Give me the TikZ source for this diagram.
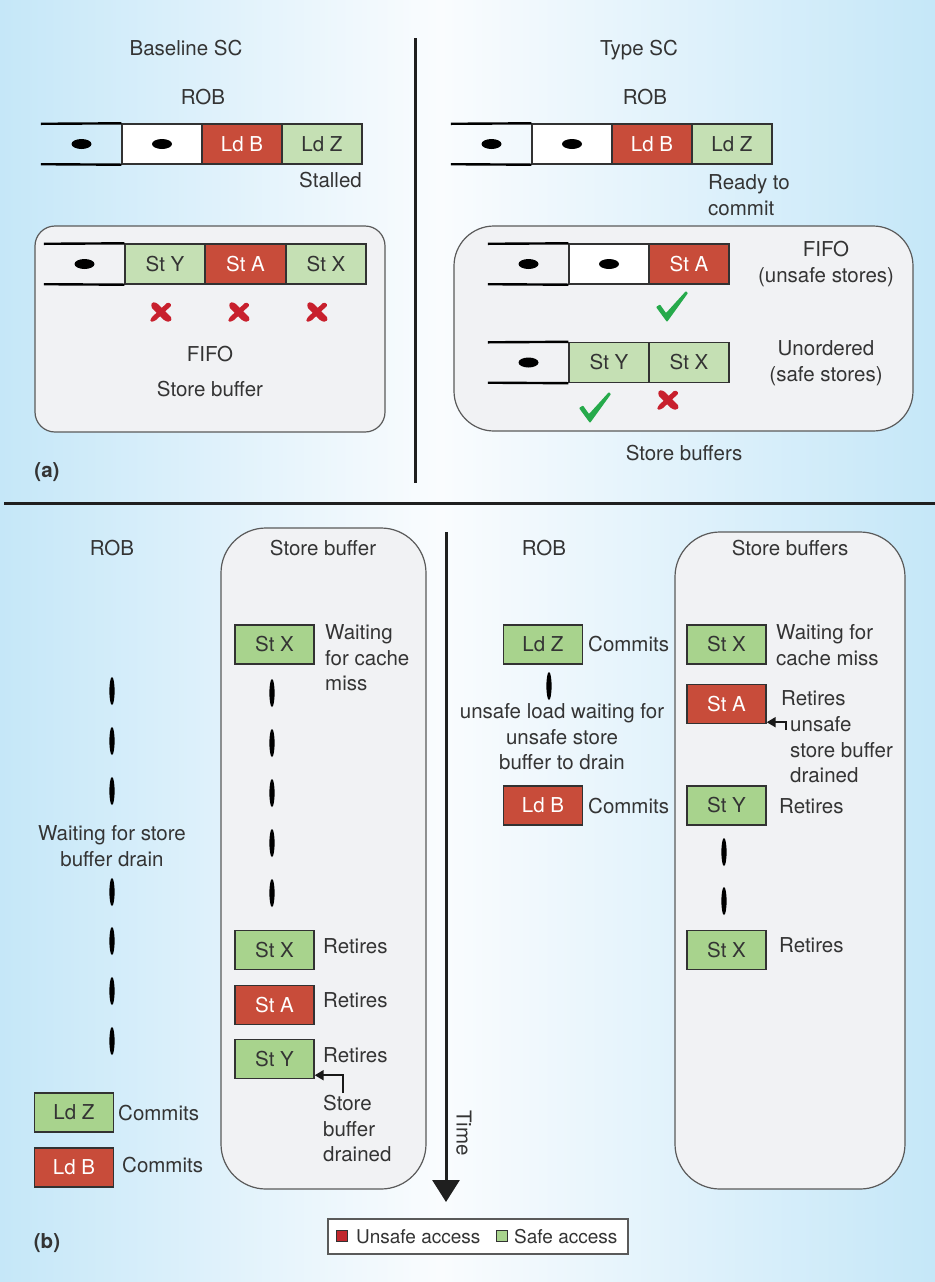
\documentclass[tikz,border=0pt]{standalone}
\usepackage{fontspec}
\setmainfont{TeX Gyre Heros}
\usetikzlibrary{arrows.meta}

\definecolor{bgblue}{RGB}{197,231,248}
\definecolor{bgwhite}{RGB}{250,252,254}
\definecolor{ink}{RGB}{52,52,52}
\definecolor{unsafered}{RGB}{200,76,58}
\definecolor{paleok}{RGB}{197,224,180}
\definecolor{safegreen}{RGB}{168,211,141}
\definecolor{legred}{RGB}{193,39,45}
\definecolor{panelgrey}{RGB}{241,242,244}
\definecolor{framegrey}{RGB}{90,90,90}
\definecolor{cellline}{RGB}{50,50,50}
\definecolor{tickgreen}{RGB}{38,170,75}
\definecolor{crossred}{RGB}{200,32,45}

\newcommand\labfont{\fontsize{20.5bp}{25.5bp}\selectfont}
\newcommand\legfont{\fontsize{19bp}{23bp}\selectfont}

\tikzset{
  lbl/.style={font=\labfont, text=ink, inner sep=0pt},
  cell/.style={rectangle, draw=cellline, line width=1.4bp, minimum width=80bp,
               minimum height=40bp, inner sep=0pt, font=\labfont, text=ink},
  emptycell/.style={cell, fill=white},
  unsafecell/.style={cell, fill=unsafered, text=white},
  safecell/.style={cell, fill=paleok},
  unsafebox/.style={cell, fill=unsafered, text=white, minimum width=79bp, minimum height=39bp},
  safebox/.style={cell, fill=safegreen, minimum width=79bp, minimum height=39bp},
  opencell/.style={rectangle, minimum width=81bp, minimum height=40bp, inner sep=0pt},
  openline/.style={line width=2.4bp, black, line cap=butt},
  panel/.style={rectangle, draw=framegrey, line width=1.2bp, fill=panelgrey, inner sep=0pt},
  divider/.style={line width=3bp, black!88},
  ptr/.style={line width=2bp, black!90, -{Triangle[length=9bp,width=10bp]}},
  hdot/.style={fill=black},
  tick/.style={fill=tickgreen},
  cross/.style={fill=crossred},
}

\newcommand\hdotat[1]{\fill[hdot] (#1) ellipse [x radius=10bp, y radius=5bp];}
\newcommand\vdotat[1]{\fill[hdot] (#1) ellipse [x radius=2.6bp, y radius=14bp];}
\newcommand\tickat[1]{\fill[tick, shift={(#1)}, rounded corners=0.8bp]
   (-16,0) -- (-12,-2.5) -- (-6,6) -- (14,-16) -- (16,-14) -- (-5,15) -- cycle;}
% brush-stroke cross: two tapered bars
\newcommand\crossat[1]{\fill[cross, shift={(#1)}, rounded corners=1.5bp]
   (-9,-10) -- (-4,-9) -- (11,6) -- (9,10) -- (4,9) -- (-10,-5) -- cycle
   (7,-10) -- (11,-7) -- (-6,9) -- (-11,10) -- (-10,6) -- cycle;}

\begin{document}
\begin{tikzpicture}[x=1bp, y=-1bp]
\useasboundingbox (0,0) rectangle (935,1282);

% background wash
\shade[left color=bgblue, right color=bgwhite] (0,0) rectangle (440,1282);
\shade[left color=bgwhite, right color=bgblue] (440,0) rectangle (935,1282);

% separators
\coordinate (sepL) at (4,503);
\coordinate (sepR) at (935,503);
\draw[divider] (sepL) -- (sepR);
\coordinate (midTop) at (415,38);
\coordinate (midBot) at (415,483);
\draw[divider] (midTop) -- (midBot);

% ================= (a) Baseline SC =================
\node[lbl, anchor=base] (baseSC) at (186,55.4) {Baseline SC};
\node[lbl, anchor=base] (robA) at (203,104.4) {ROB};

\node[opencell] (ra0) at (81.5,144) {};
\node[emptycell] (ra1) at (162,144) {};
\node[unsafecell] (ra2) at (242,144) {Ld B};
\node[safecell] (ra3) at (322,144) {Ld Z};
\draw[openline] (ra0.north west) -- (ra1.north west);
\draw[openline] (ra0.south west) -- (ra1.south west);
\hdotat{ra0.center}
\hdotat{ra1.center}
\node[lbl, anchor=base east] (stalled) at (362,187.4) {Stalled};

\node[panel, rounded corners=20bp, minimum width=350bp, minimum height=206bp] (panA) at (210,329) {};
\node[opencell] (sa0) at (84.5,264) {};
\node[safecell] (sa1) at (165,264) {St Y};
\node[unsafecell] (sa2) at (245.5,264) {St A};
\node[safecell] (sa3) at (326,264) {St X};
\draw[openline] (sa0.north west) -- (sa1.north west);
\draw[openline] (sa0.south west) -- (sa1.south west);
\hdotat{sa0.center}
\crossat{161,312}
\crossat{239,312}
\crossat{317,312}
\node[lbl, anchor=base] (fifoA) at (210,361.4) {FIFO};
\node[lbl, anchor=base] (sbA) at (210,396.4) {Store buffer};
\node[lbl, font=\labfont\bfseries] (tagA) at (47,472) {(a)};

% ================= (a) Type SC =================
\node[lbl, anchor=base] (typeSC) at (639,55.4) {Type SC};
\node[lbl, anchor=base] (robB) at (645,104.4) {ROB};

\node[opencell] (rb0) at (491.5,144) {};
\node[emptycell] (rb1) at (572,144) {};
\node[unsafecell] (rb2) at (652,144) {Ld B};
\node[safecell] (rb3) at (732,144) {Ld Z};
\draw[openline] (rb0.north west) -- (rb1.north west);
\draw[openline] (rb0.south west) -- (rb1.south west);
\hdotat{rb0.center}
\hdotat{rb1.center}
\node[lbl, anchor=north west, align=left] (ready) at (708,174.4) {Ready to\\commit};

\node[panel, rounded corners=40bp, minimum width=459bp, minimum height=205bp] (panB) at (683.5,328.5) {};
\node[opencell] (fb0) at (528.5,264) {};
\node[emptycell] (fb1) at (609,264) {};
\node[unsafecell] (fb2) at (689,264) {St A};
\draw[openline] (fb0.north west) -- (fb1.north west);
\draw[openline] (fb0.south west) -- (fb1.south west);
\hdotat{fb0.center}
\hdotat{fb1.center}
\tickat{672,307}
\node[lbl, anchor=north, align=center] (fifoU) at (826,241.4) {FIFO\\(unsafe stores)};

\node[opencell] (ub0) at (528.5,362.5) {};
\node[safecell] (ub1) at (609,362.5) {St Y};
\node[safecell] (ub2) at (689,362.5) {St X};
\draw[openline] (ub0.north west) -- (ub1.north west);
\draw[openline] (ub0.south west) -- (ub1.south west);
\hdotat{ub0.center}
\tickat{595,408}
\crossat{668,400}
\node[lbl, anchor=north, align=center] (unord) at (826,340.4) {Unordered\\(safe stores)};
\node[lbl, anchor=base] (sbB) at (684,460.4) {Store buffers};

% ================= (b) Baseline timeline =================
\node[panel, rounded corners=45bp, minimum width=205bp, minimum height=661bp] (panC) at (323.5,858.5) {};
\node[lbl, anchor=base] (robC) at (112,555.4) {ROB};
\node[lbl, anchor=base] (sbC) at (323,555.4) {Store buffer};

\node[safebox] (cX1) at (274.5,644.5) {St X};
\node[lbl, anchor=north west, align=left] (cWait) at (325,624.4) {Waiting\\for cache\\miss};
\foreach \yy in {693,743,793,843,893} {\vdotat{272,\yy}}
\foreach \yy in {691,741,791,892,941,991,1041} {\vdotat{112,\yy}}
\node[lbl, anchor=north, align=center] (cDrain) at (112,825.4) {Waiting for store\\buffer drain};

\node[safebox] (cX2) at (274.5,950) {St X};
\node[lbl, anchor=base west] (cRetX) at (323,953.4) {Retires};
\node[unsafebox] (cA) at (274.5,1005) {St A};
\node[lbl, anchor=base west] (cRetA) at (323,1007.4) {Retires};
\node[safebox] (cY) at (274.5,1059) {St Y};
\node[lbl, anchor=base west] (cRetY) at (323,1062.4) {Retires};
\coordinate (cFoot) at (343,1093);
\draw[ptr] (cFoot) |- ([yshift=4bp]cY.south east);
\node[lbl, anchor=north west, align=left] (cDrained) at (323,1095.4) {Store\\buffer\\drained};

\node[safebox] (cLdZ) at (74,1112.5) {Ld Z};
\node[lbl, anchor=base west] (cComZ) at (118,1120.4) {Commits};
\node[unsafebox] (cLdB) at (74,1167.5) {Ld B};
\node[lbl, anchor=base west] (cComB) at (122,1172.4) {Commits};
\node[lbl, font=\labfont\bfseries] (tagB) at (47,1243) {(b)};

% time axis
\coordinate (timeTop) at (446,532);
\coordinate (timeEnd) at (446,1202);
\draw[line width=3bp, black!88, -{Triangle[length=22bp,width=27bp]}] (timeTop) -- (timeEnd);
\node[lbl, rotate=-90] (timeLbl) at (464,1133) {Time};

% ================= (b) Type SC timeline =================
\node[panel, rounded corners=45bp, minimum width=230bp, minimum height=657bp] (panD) at (790,860.5) {};
\node[lbl, anchor=base] (robD) at (544,555.4) {ROB};
\node[lbl, anchor=base] (sbD) at (790,555.4) {Store buffers};

\node[safebox] (dLdZ) at (543,644.5) {Ld Z};
\node[lbl, anchor=base west] (dComZ) at (588,651.4) {Commits};
\vdotat{549,686}
\node[lbl, anchor=north, align=center] (dUnsafe) at (562,703.4) {unsafe load waiting for\\unsafe store\\buffer to drain};
\node[unsafebox] (dLdB) at (543,805.5) {Ld B};
\node[lbl, anchor=base west] (dComB) at (588,813.4) {Commits};

\node[safebox] (dX1) at (726.5,644.5) {St X};
\node[lbl, anchor=north west, align=left] (dWait) at (776,624.4) {Waiting for\\cache miss};
\node[unsafebox] (dA) at (726.5,704) {St A};
\node[lbl, anchor=base west] (dRetA) at (781,705.4) {Retires};
\coordinate (dFoot) at (786,730);
\draw[ptr] (dFoot) |- ([yshift=2bp]dA.south east);
\node[lbl, anchor=north west, align=left] (dDrained) at (790,716.4) {unsafe\\store buffer\\drained};
\node[safebox] (dY) at (726.5,805.5) {St Y};
\node[lbl, anchor=base west] (dRetY) at (779,813.4) {Retires};
\vdotat{724,852}
\vdotat{724,901}
\node[safebox] (dX2) at (726.5,950) {St X};
\node[lbl, anchor=base west] (dRetX) at (779,952.4) {Retires};

% legend
\node[rectangle, draw=framegrey, fill=white, line width=1.3bp, minimum width=300bp,
      minimum height=35bp, inner sep=0pt] (legend) at (478,1236.5) {};
\node[rectangle, draw=cellline, fill=legred, line width=1bp, minimum size=11bp, inner sep=0pt] (legU) at (342,1235.5) {};
\node[lbl, font=\legfont, anchor=base west] (legUtxt) at (356,1243) {Unsafe access};
\node[rectangle, draw=cellline, fill=safegreen, line width=1bp, minimum size=11bp, inner sep=0pt] (legS) at (501.5,1235.5) {};
\node[lbl, font=\legfont, anchor=base west] (legStxt) at (514,1243) {Safe access};
\end{tikzpicture}
\end{document}
